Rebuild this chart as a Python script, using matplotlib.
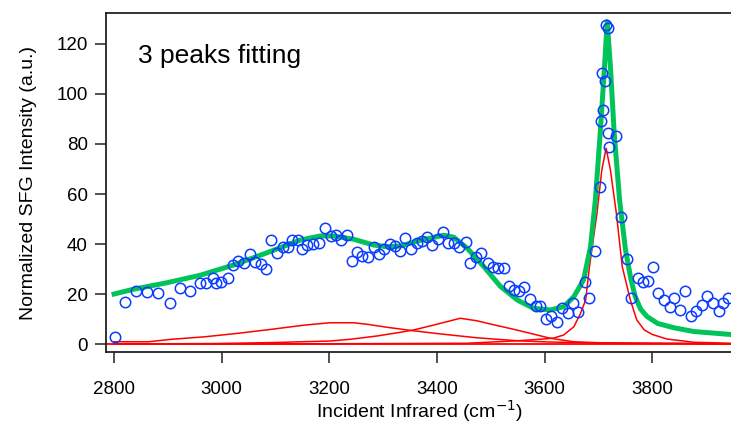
import matplotlib
matplotlib.use("Agg")
import matplotlib.pyplot as plt

plt.rcParams['font.family'] = ['Liberation Sans', 'DejaVu Sans']

# measured SFG data (blue circles)
data_x = [2802, 2820, 2841, 2861, 2882, 2903, 2922, 2941, 2960, 2971, 2983, 2990, 2999,
          3011, 3021, 3031, 3041, 3053, 3062, 3073, 3083, 3091, 3102, 3114, 3124, 3131,
          3141, 3150, 3159, 3170, 3180, 3191, 3203, 3213, 3221, 3233, 3242, 3252, 3260,
          3271, 3282, 3292, 3302, 3312, 3322, 3332, 3341, 3352, 3363, 3372, 3381, 3391,
          3402, 3411, 3421, 3431, 3441, 3453, 3462, 3473, 3482, 3494, 3504, 3514, 3524,
          3533, 3542, 3553, 3562, 3572, 3583, 3592, 3602, 3612, 3623, 3632, 3643, 3653,
          3661, 3674, 3682, 3693, 3703, 3704, 3709, 3707, 3711, 3714, 3718, 3718, 3720,
          3733, 3742, 3753, 3760, 3773, 3782, 3792, 3802, 3811, 3822, 3832, 3841, 3852,
          3860, 3872, 3881, 3892, 3902, 3912, 3923, 3931, 3940]
data_y = [2.7, 16.8, 21.3, 21.0, 20.5, 16.3, 22.3, 21.2, 24.3, 24.3, 26.5, 24.3, 25.0,
          26.5, 31.6, 33.3, 32.3, 35.9, 32.9, 31.9, 30.1, 41.6, 36.3, 38.7, 38.9, 41.6,
          41.6, 37.9, 39.6, 39.9, 40.3, 46.5, 43.2, 43.6, 41.6, 43.5, 33.3, 36.9, 35.2,
          34.7, 38.9, 35.9, 37.9, 39.9, 39.2, 37.3, 42.3, 37.9, 40.5, 41.3, 42.9, 39.5,
          41.9, 44.9, 40.3, 40.3, 38.9, 40.9, 32.3, 34.9, 36.3, 32.3, 30.9, 30.3, 30.3,
          23.3, 21.6, 21.2, 22.7, 17.9, 15.2, 15.2, 9.9, 11.2, 8.7, 14.3, 12.5, 16.3,
          12.9, 24.9, 18.5, 37.2, 62.9, 89.2, 93.6, 108.3, 105.3, 127.6, 126.3, 84.3, 78.9,
          83.2, 50.9, 33.9, 18.3, 26.3, 24.9, 25.2, 30.9, 20.3, 17.6, 14.9, 18.5, 13.6,
          21.3, 11.3, 13.2, 15.6, 19.3, 16.5, 13.2, 16.3, 18.5]

# total fit (green)
fit_x = [2800, 2836, 2898, 2960, 3022, 3084, 3146, 3183, 3208, 3245, 3282, 3307, 3332,
         3369, 3412, 3431, 3456, 3487, 3517, 3549, 3579, 3610, 3635, 3654, 3672, 3685,
         3694, 3703, 3711, 3716, 3722, 3729, 3739, 3750, 3760, 3768, 3778, 3790, 3810,
         3840, 3877, 3946]
fit_y = [20.0, 21.9, 24.5, 27.5, 31.6, 36.5, 41.6, 43.2, 43.2, 41.9, 39.6, 38.9, 39.2,
         41.5, 43.5, 42.7, 38.3, 30.9, 23.2, 17.6, 14.3, 13.6, 14.9, 18.9, 25.6, 38.9,
         57.6, 84.3, 110.9, 128.9, 110.9, 84.3, 57.6, 37.6, 26.0, 19.0, 14.0, 11.0, 8.2,
         6.5, 5.0, 3.8]

# individual peaks (red)
p1_x = [2800, 2864, 2907, 2969, 3031, 3093, 3155, 3201, 3245, 3270, 3307, 3356, 3412,
        3474, 3499, 3550, 3610, 3700, 3946]
p1_y = [0.9, 0.9, 1.9, 2.9, 4.3, 5.9, 7.6, 8.5, 8.5, 7.9, 6.7, 5.3, 3.9,
        2.5, 2.1, 1.3, 0.8, 0.4, 0.1]
p2_x = [2800, 2990, 3100, 3146, 3201, 3239, 3288, 3332, 3356, 3394, 3443, 3474, 3499,
        3542, 3586, 3610, 3654, 3703, 3946]
p2_y = [0.0, 0.2, 0.6, 0.9, 1.2, 1.9, 3.2, 4.7, 5.6, 7.6, 10.3, 9.3, 8.0,
        5.9, 3.6, 2.3, 0.9, 0.5, 0.1]
p3_x = [2800, 3200, 3455, 3549, 3598, 3617, 3635, 3654, 3666, 3676, 3683, 3697, 3706,
        3714, 3722, 3733, 3744, 3759, 3771, 3785, 3800, 3827, 3877, 3946]
p3_y = [0.0, 0.1, 0.3, 1.3, 2.0, 2.4, 3.6, 6.9, 12.0, 17.6, 30.9, 52.3, 69.6,
        78.3, 69.6, 52.3, 30.9, 17.6, 9.6, 5.6, 3.8, 2.0, 0.7, 0.3]

xticks = [2800, 3000, 3200, 3400, 3600, 3800]
yticks = [0, 20, 40, 60, 80, 100, 120]

fig = plt.figure(figsize=(7.31, 4.23), dpi=100)
ax = fig.add_axes([0.145, 0.1678, 0.8565, 0.8015])

ax.axhline(0, color='#ff0000', lw=1.3, zorder=1)
for px, py in [(p1_x, p1_y), (p2_x, p2_y), (p3_x, p3_y)]:
    ax.plot(px, py, color='#ff0000', lw=1.1, zorder=2)
ax.plot(fit_x, fit_y, color='#00c45a', lw=3.6, solid_joinstyle='round', zorder=3)
ax.plot(data_x, data_y, 'o', mfc='none', mec='#0a3cff', ms=7.5, mew=1.1, zorder=4)

ax.text(2845, 112.4, '3 peaks fitting', fontsize=19, va='baseline')

ax.set_xlim(2785, 3948)
ax.set_ylim(-3.2, 132.4)
ax.set_xticks(xticks)
ax.set_yticks(yticks)
ax.tick_params(direction='out', length=8, width=1.1, labelsize=13.5, color='#222222')
ax.tick_params(axis='x', pad=13)
ax.tick_params(axis='y', pad=5)
for s in ax.spines.values():
    s.set_linewidth(1.3)
    s.set_color('#222222')
ax.spines['right'].set_visible(False)

ax.set_xlabel('Incident Infrared (cm$^{-1}$)', fontsize=14, labelpad=0)
ax.set_ylabel('Normalized SFG Intensity (a.u.)', fontsize=14, labelpad=14)

fig.savefig('out.png', dpi=100)
